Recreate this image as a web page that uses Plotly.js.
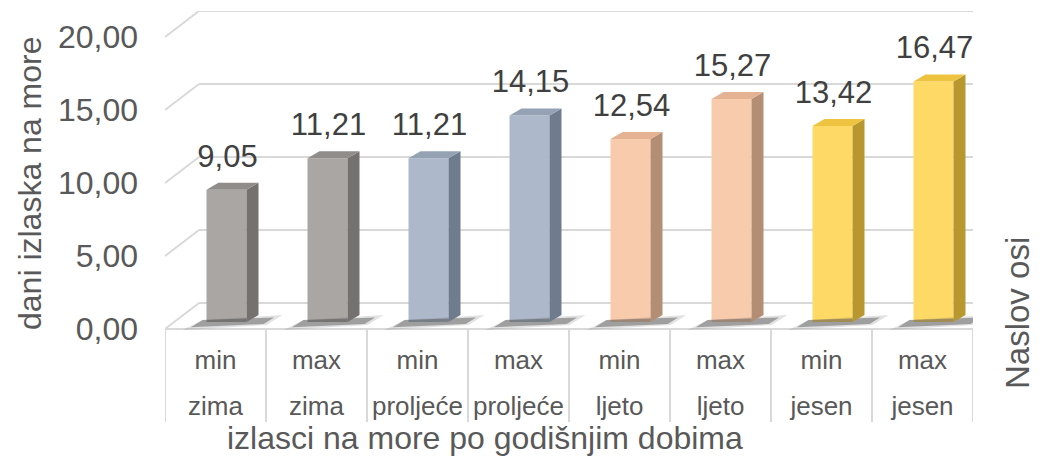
<!DOCTYPE html>
<html>
<head>
<meta charset="utf-8">
<script src="https://cdn.plot.ly/plotly-3.0.1.min.js"></script>
<style>html,body{margin:0;padding:0;background:#fff;}#chart{width:1042px;height:458px;}</style>
</head>
<body>
<div id="chart"></div>
<script>
// ---- data ----
const seasons = ['zima', 'zima', 'proljeće', 'proljeće', 'ljeto', 'ljeto', 'jesen', 'jesen'];
const kinds = ['min', 'max', 'min', 'max', 'min', 'max', 'min', 'max'];
const values = [9.05, 11.21, 11.21, 14.15, 12.54, 15.27, 13.42, 16.47];
const yTickVals = [0, 5, 10, 15, 20];
const yTickText = ['0,00', '5,00', '10,00', '15,00', '20,00'];
const yTitle = 'dani izlaska na more';
const xTitle = 'izlasci na more po godišnjim dobima';
const depthTitle = 'Naslov osi';

// ---- style ----
const seasonColors = {
  'zima':     {front: '#A9A6A3', side: '#74716E', top: '#8F8C89'},
  'proljeće': {front: '#ADB9CB', side: '#6F7C8E', top: '#95A2B4'},
  'ljeto':    {front: '#F8CBAD', side: '#B48D75', top: '#E3B393'},
  'jesen':    {front: '#FFD966', side: '#B8982E', top: '#EEC33F'}
};
const PXX = 101;    // px per category
const PXY = 14.6;   // px per value unit
const px2x = p => p / PXX;
const px2y = p => p / PXY;
const baseY = px2y(7);          // bar base offset (depth)
const wallDX = px2x(34), wallDY = px2y(26);
const faceOff = px2x(41.5), faceW = px2x(40);
const sideDX = px2x(12), sideDY = px2y(7);
const fontFam = '"Liberation Sans", Arial, sans-serif';
const gridCol = '#D9D9D9';

const n = values.length;
const idx = values.map((_, i) => i);
const fmt = v => v.toFixed(2).replace('.', ',');

const traces = [];
// shadows (soft band behind/left of each bar foot)
[[1.0, 'rgba(110,110,110,0.20)'], [0.65, 'rgba(60,60,60,0.40)']].forEach(([s, col]) => {
  idx.forEach(i => {
    const L = i - 0.5 + faceOff, R = L + faceW;
    traces.push({
      type: 'scatter', mode: 'lines', fill: 'toself', hoverinfo: 'skip', showlegend: false,
      x: [L - px2x(24 * s), L - px2x(4), R + sideDX + px2x(24 * s), R + sideDX + px2x(8 * s), L - px2x(24 * s)],
      y: [baseY - px2y(8 * s), baseY + px2y(2), baseY + px2y(7 * s), baseY - px2y(3 * s), baseY - px2y(8 * s)],
      line: {width: 0, color: 'rgba(0,0,0,0)'}, fillcolor: col
    });
  });
});
// front faces
traces.push({
  type: 'bar', hoverinfo: 'skip', showlegend: false,
  x: idx.map(i => i - 0.5 + faceOff + faceW / 2),
  y: values, base: values.map(() => baseY), width: faceW,
  marker: {color: seasons.map(s => seasonColors[s].front), line: {width: 0}}
});
// side and top faces
idx.forEach(i => {
  const L = i - 0.5 + faceOff, R = L + faceW;
  const top = baseY + values[i];
  const c = seasonColors[seasons[i]];
  traces.push({
    type: 'scatter', mode: 'lines', fill: 'toself', hoverinfo: 'skip', showlegend: false,
    x: [R, R + sideDX, R + sideDX, R, R], y: [baseY, baseY + sideDY, top + sideDY, top, baseY],
    line: {width: 0, color: 'rgba(0,0,0,0)'}, fillcolor: c.side
  });
  traces.push({
    type: 'scatter', mode: 'lines', fill: 'toself', hoverinfo: 'skip', showlegend: false,
    x: [L, R, R + sideDX, L + sideDX, L], y: [top, top, top + sideDY, top + sideDY, top],
    line: {width: 0, color: 'rgba(0,0,0,0)'}, fillcolor: c.top
  });
});
// data labels
traces.push({
  type: 'scatter', mode: 'text', hoverinfo: 'skip', showlegend: false,
  x: idx.map(i => i - 0.5 + faceOff + faceW / 2 + px2x(1)),
  y: values.map(v => baseY + v + sideDY + px2y(24)),
  text: values.map(fmt), textposition: 'middle center', cliponaxis: false,
  textfont: {family: fontFam, size: 31, color: '#404040'}
});
// category labels
traces.push({
  type: 'scatter', mode: 'text', hoverinfo: 'skip', showlegend: false,
  x: idx, y: idx.map(() => px2y(-33)), text: kinds, textposition: 'middle center', cliponaxis: false,
  textfont: {family: fontFam, size: 26, color: '#595959'}
});
traces.push({
  type: 'scatter', mode: 'text', hoverinfo: 'skip', showlegend: false,
  x: idx, y: idx.map(() => px2y(-79)), text: seasons, textposition: 'middle center', cliponaxis: false,
  textfont: {family: fontFam, size: 26, color: '#595959'}
});

// grid shapes (walls, floor, table)
const shapes = [];
const ln = (x0, y0, x1, y1) => ({type: 'line', xref: 'x', yref: 'y', x0, y0, x1, y1, layer: 'below',
  line: {color: gridCol, width: 2}});
yTickVals.forEach(v => {
  shapes.push(ln(-0.5 + wallDX, v + wallDY, n - 0.5 + wallDX, v + wallDY));
  shapes.push(ln(-0.5, v, -0.5 + wallDX, v + wallDY));
});
shapes.push(ln(-0.5, 0, n - 0.5, 0));
shapes.push(ln(n - 0.5, 0, n - 0.5 + wallDX, wallDY));
for (let k = 0; k <= n; k++) shapes.push(ln(k - 0.5, 0, k - 0.5, px2y(-93)));

const layout = {
  width: 1042, height: 458,
  margin: {l: 165, r: 69, t: 11, b: 36},
  paper_bgcolor: '#ffffff', plot_bgcolor: 'rgba(0,0,0,0)',
  showlegend: false,
  xaxis: {range: [-0.5, n - 0.5], showgrid: false, zeroline: false, showticklabels: false, showline: false, fixedrange: true},
  yaxis: {range: [px2y(-93), px2y(318)], tickvals: yTickVals, ticktext: yTickText, showgrid: false, zeroline: false,
    showline: false, ticks: '', ticklabelstandoff: 26,
    tickfont: {family: fontFam, size: 32, color: '#595959'}, fixedrange: true},
  shapes: shapes,
  annotations: [
    {text: yTitle, xref: 'paper', yref: 'paper', x: (30 - 165) / 808, y: (422 - 184) / 411, showarrow: false,
      textangle: -90, xanchor: 'center', yanchor: 'middle', font: {family: fontFam, size: 32, color: '#595959'}},
    {text: xTitle, xref: 'paper', yref: 'paper', x: (485 - 165) / 808, y: (422 - 438) / 411, showarrow: false,
      xanchor: 'center', yanchor: 'middle', font: {family: fontFam, size: 32, color: '#595959'}},
    {text: depthTitle, xref: 'paper', yref: 'paper', x: (1017 - 165) / 808, y: (422 - 313) / 411, showarrow: false,
      textangle: -90, xanchor: 'center', yanchor: 'middle', font: {family: fontFam, size: 33, color: '#595959'}}
  ]
};
Plotly.newPlot('chart', traces, layout, {displayModeBar: false, staticPlot: true});
</script>
</body>
</html>
